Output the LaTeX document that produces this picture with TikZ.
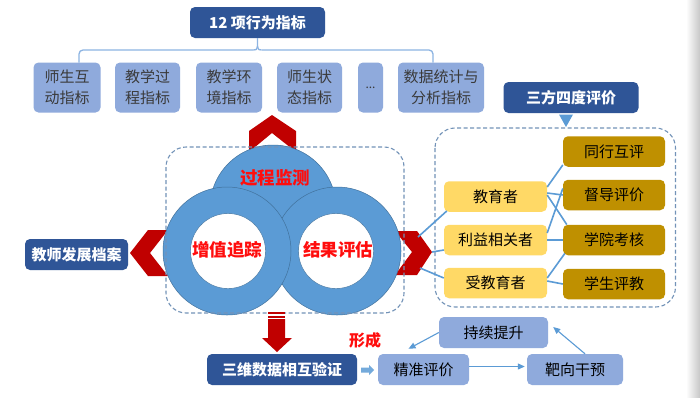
\documentclass[tikz,border=0pt]{standalone}
\usepackage{fontspec}
\newfontfamily\cjk{Noto Sans CJK SC}
\usetikzlibrary{calc,arrows.meta}
\definecolor{dblue}{HTML}{2F5597}
\definecolor{lblue}{HTML}{8FAADC}
\definecolor{ring}{HTML}{5B9BD5}
\definecolor{ringedge}{HTML}{41719C}
\definecolor{chev}{HTML}{C00000}
\definecolor{ylw}{HTML}{FFD966}
\definecolor{gold}{HTML}{BF9000}
\definecolor{conn}{HTML}{5B9BD5}
\definecolor{dashc}{HTML}{7393B8}
\definecolor{bracec}{HTML}{8DB4E2}
\definecolor{graytxt}{HTML}{3A3A3A}
\definecolor{redtxt}{HTML}{FF0D0D}
\begin{document}
\begin{tikzpicture}[x=1pt,y=-1pt,
  box/.style={rounded corners=5pt, inner sep=0pt, align=center,
    font=\cjk\fontsize{15}{21}\selectfont},
  darkbox/.style={box, fill=dblue, text=white,
    font=\cjk\bfseries\fontsize{15}{21}\selectfont},
  topbox/.style={box, fill=lblue, text=graytxt, minimum height=50pt},
  lbox/.style={box, fill=lblue, text=black, minimum height=31pt},
  ybox/.style={box, fill=ylw, text=black, minimum width=103pt, minimum height=30.5pt},
  gbox/.style={box, fill=gold, text=black, minimum width=102pt, minimum height=30.5pt},
  conline/.style={draw=conn, line width=1.6pt},
  loopar/.style={draw=conn, line width=1.1pt, -{Triangle[length=7pt,width=6pt]}},
  bracel/.style={draw=bracec, line width=1.3pt, rounded corners=4pt},
  dashbox/.style={draw=dashc, line width=1.1pt, dash pattern=on 4pt off 2.5pt, rounded corners=20pt},
  chevron/.style={fill=chev},
  ctext/.style={text=redtxt, font=\cjk\bfseries\fontsize{17.5}{20}\selectfont},
  ringout/.style={fill=ring, draw=ringedge, line width=0.5pt},
  ringin/.style={fill=white, draw=ringedge, line width=0.4pt}
]
\fill[white] (0,0) rectangle (700,397);
\useasboundingbox (0,0) rectangle (700,397);
\shade[left color=white, right color=black!22] (686,0) rectangle (700,397);

% top header and indicator row
\node[darkbox, minimum width=135pt, minimum height=31pt] (t) at (257.5,22.5) {12 项行为指标};
\node[topbox, minimum width=67pt] (b1) at (67,87.5) {师生互\\动指标};
\node[topbox, minimum width=65pt] (b2) at (147.5,87.5) {教学过\\程指标};
\node[topbox, minimum width=66pt] (b3) at (229,87.5) {教学环\\境指标};
\node[topbox, minimum width=65pt] (b4) at (309.5,87.5) {师生状\\态指标};
\node[topbox, minimum width=25pt] (b5) at (370.5,87.5) {\fontsize{12}{14}\selectfont ...};
\node[topbox, minimum width=86pt] (b6) at (441,87.5) {数据统计与\\分析指标};

\coordinate (bl) at (79,62.5);
\coordinate (br) at (433,62.5);
\coordinate (bm) at (257.5,50);
\draw[bracel] (bl) |- ($(bm)+(-4,0)$);
\draw[bracel] (br) |- ($(bm)+(4,0)$);
\draw[draw=bracec, line width=1.3pt] ($(bm)+(-4,0)$) .. controls ($(bm)+(-1,0)$) .. ($(bm)+(0,-4)$) -- (t.south);
\draw[draw=bracec, line width=1.3pt] ($(bm)+(4,0)$) .. controls ($(bm)+(1,0)$) .. ($(bm)+(0,-4)$);

% three-party box
\node[darkbox, minimum width=135pt, minimum height=31pt] (sf) at (571,97.5) {三方四度评价};
\fill[conn] (559,114.5) -- (573,114.5) -- (566,127) -- cycle;

% chevrons
\fill[chevron] (249,131) -- (272,115) -- (296,131) -- (296,152) -- (272,133) -- (249,152) -- cycle;
\fill[chevron] (130,253) -- (148,230) -- (168,230) -- (150,253) -- (168,276) -- (148,276) -- cycle;
\fill[chevron] (395,231) -- (417,231) -- (432,252) -- (417,275) -- (395,275) -- (412,252) -- cycle;

% circles
\fill[ringout] (273,208) circle[radius=63pt];
\fill[ringout] (337,251) circle[radius=64pt];
\fill[ringin] (336,251) circle[radius=37.5pt];
\fill[ringout] (227,251) circle[radius=64pt];
\fill[ringin] (228,251) circle[radius=37.5pt];
\node[ctext] (gc) at (275,178) {过程监测};
\node[ctext] (zz) at (227,250) {增值追踪};
\node[ctext] (jg) at (338,250) {结果评估};

% left dashed group
\draw[dashbox] (166,147) rectangle (404,313);

% left archive box
\node[darkbox, minimum width=103pt, minimum height=31pt] (da) at (76.5,254.5) {教师发展档案};

% right panel
\draw[dashbox] (435,128) rectangle (675.5,307);
\node[ybox] (jy) at (495.5,196.5) {教育者};
\node[ybox] (ly) at (495.5,240) {利益相关者};
\node[ybox] (sy) at (495.5,283) {受教育者};
\node[gbox] (g1) at (614,151.5) {同行互评};
\node[gbox] (g2) at (614,195) {督导评价};
\node[gbox] (g3) at (614,240) {学院考核};
\node[gbox] (g4) at (614,284) {学生评教};

\coordinate (c1) at (418,237);
\coordinate (c2) at (432,252);
\coordinate (c3) at (420,268);
\draw[conline] (c1) -- ($(jy.south west)+(3,-1)$);
\draw[conline] (c2) -- ($(ly.west)+(0,10)$);
\draw[conline] (c3) -- ($(sy.west)+(0,-5)$);

\draw[conline] ($(jy.east)+(0,-9.5)$) -- ($(g1.south west)+(0,-2)$);
\draw[conline] ($(jy.east)+(0,-3.5)$) -- ($(g2.west)+(0,0)$);
\draw[conline] ($(jy.east)+(0,-1.5)$) -- ($(g3.north west)+(4,0)$);
\draw[conline] ($(ly.east)+(0,-7)$) -- ($(g2.south west)+(0,-22)$);
\draw[conline] (ly.east) -- (g3.west);
\draw[conline] ($(sy.east)+(0,-5)$) -- ($(g3.south west)+(2,-2)$);
\draw[conline] ($(sy.east)+(0,-2)$) -- (g4.west);

% down arrow
\fill[chev] (268,312) rectangle (285,314);
\fill[chev] (268,315.5) rectangle (285,317.5);
\fill[chev] (268,319) -- (285,319) -- (285,338) -- (292,338) -- (277,352) -- (262,338) -- (268,338) -- cycle;

% bottom row
\node[darkbox, minimum width=150pt, minimum height=31pt] (sw) at (282,369.5) {三维数据相互验证};
\node[lbox, minimum width=91pt] (jz) at (423.5,369.5) {精准评价};
\node[lbox, minimum width=96pt] (bx) at (575,369.5) {靶向干预};
\node[lbox, minimum width=109pt] (cx) at (493.5,332.5) {持续提升};
\node[text=redtxt, font=\cjk\bfseries\fontsize{16}{18}\selectfont] (xc) at (365,340) {形成};

\fill[conn!85] ($(sw.east)+(4,-2)$) -- ($(sw.east)+(12,-2)$) -- ($(sw.east)+(12,-4.5)$) -- ($(sw.east)+(17,0.5)$) -- ($(sw.east)+(12,5.5)$) -- ($(sw.east)+(12,3)$) -- ($(sw.east)+(4,3)$) -- cycle;
\draw[loopar] ($(jz.east)+(0,-3)$) -- ($(bx.west)+(-2,-3)$);
\draw[loopar] ($(bx.north)+(10,0)$) -- ($(cx.east)+(5,-5.5)$);
\draw[loopar] (cx.west) -- ($(jz.north)+(-15,-5)$);
\end{tikzpicture}
\end{document}
